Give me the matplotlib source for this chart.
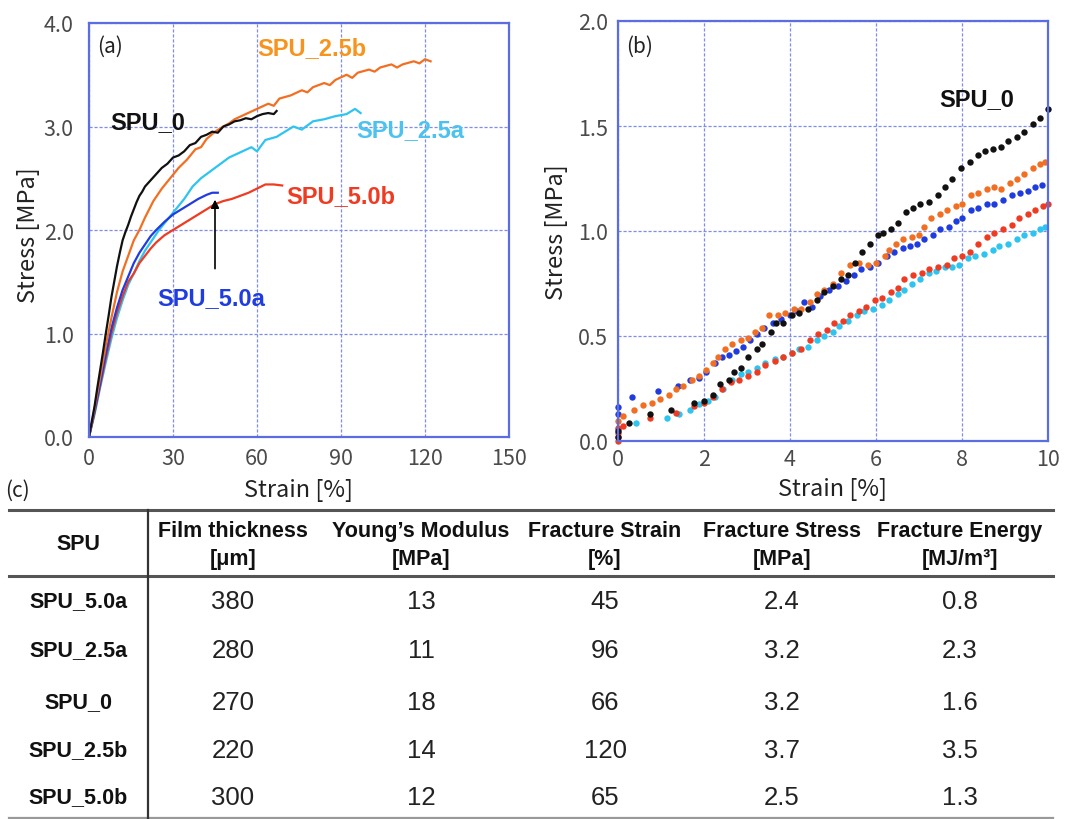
import matplotlib
matplotlib.use("Agg")
import matplotlib.pyplot as plt
from matplotlib.lines import Line2D

# ---------------- data: panel (a) full stress-strain curves ----------------
a_spu0_strain = [0, 1, 2, 3, 4, 5, 6, 7, 8, 9, 10, 11, 12, 13, 14, 15, 16, 17, 18, 19, 20, 22, 24, 26, 28, 30, 32, 34, 36, 38, 40, 42, 44, 46, 48, 50, 52, 54, 56, 58, 60, 62, 64, 66, 67]
a_spu0_stress = [0, 0.15, 0.30, 0.48, 0.65, 0.82, 1.0, 1.17, 1.35, 1.5, 1.65, 1.78, 1.9, 1.98, 2.05, 2.13, 2.2, 2.27, 2.33, 2.37, 2.42, 2.48, 2.54, 2.6, 2.64, 2.7, 2.72, 2.76, 2.82, 2.84, 2.9, 2.92, 2.95, 2.94, 3.0, 3.02, 3.05, 3.06, 3.08, 3.07, 3.1, 3.12, 3.13, 3.12, 3.15]

a_spu25b_strain = [0, 2, 4, 6, 8, 10, 12, 14, 16, 18, 20, 23, 26, 29, 32, 35, 38, 40, 42, 45, 48, 50, 52, 56, 60, 64, 66, 68, 72, 76, 78, 80, 84, 86, 88, 92, 94, 96, 100, 102, 104, 108, 110, 112, 116, 118, 120, 122]
a_spu25b_stress = [0, 0.28, 0.58, 0.88, 1.15, 1.4, 1.6, 1.75, 1.9, 2.0, 2.12, 2.28, 2.4, 2.5, 2.6, 2.68, 2.78, 2.8, 2.88, 2.95, 3.0, 3.03, 3.07, 3.12, 3.17, 3.22, 3.2, 3.27, 3.3, 3.35, 3.33, 3.38, 3.42, 3.4, 3.45, 3.5, 3.47, 3.52, 3.55, 3.53, 3.57, 3.6, 3.57, 3.6, 3.63, 3.61, 3.65, 3.63]

a_spu25a_strain = [0, 2, 4, 6, 8, 10, 12, 14, 16, 18, 20, 22, 25, 28, 31, 34, 37, 40, 43, 46, 50, 54, 58, 60, 63, 67, 70, 73, 76, 80, 84, 88, 92, 95, 97]
a_spu25a_stress = [0, 0.22, 0.48, 0.72, 0.95, 1.15, 1.32, 1.47, 1.58, 1.7, 1.8, 1.88, 2.0, 2.1, 2.2, 2.3, 2.42, 2.5, 2.56, 2.62, 2.7, 2.75, 2.8, 2.76, 2.87, 2.9, 2.95, 3.0, 2.97, 3.05, 3.07, 3.1, 3.12, 3.17, 3.13]

a_spu50a_strain = [0, 2, 4, 6, 8, 10, 12, 14, 16, 18, 20, 22, 24, 27, 30, 33, 36, 39, 42, 44, 46]
a_spu50a_stress = [0, 0.25, 0.52, 0.8, 1.05, 1.25, 1.42, 1.55, 1.68, 1.78, 1.86, 1.94, 2.0, 2.08, 2.15, 2.2, 2.25, 2.3, 2.34, 2.36, 2.36]

a_spu50b_strain = [0, 2, 4, 6, 8, 10, 12, 14, 16, 18, 20, 22, 24, 27, 30, 33, 36, 39, 42, 45, 48, 51, 54, 57, 60, 63, 66, 69]
a_spu50b_stress = [0, 0.24, 0.5, 0.76, 1.0, 1.2, 1.36, 1.5, 1.58, 1.68, 1.75, 1.82, 1.88, 1.95, 2.0, 2.05, 2.1, 2.15, 2.2, 2.25, 2.28, 2.3, 2.33, 2.36, 2.4, 2.44, 2.44, 2.43]

# ---------------- data: panel (b) initial region (dots) ----------------
b_spu0_strain = [0, 0, 0.25, 0.74, 1.23, 1.76, 2.0, 2.2, 2.37, 2.58, 2.7, 2.86, 3.03, 3.23, 3.35, 3.56, 3.68, 3.84, 4.05, 4.21, 4.42, 4.62, 4.78, 4.99, 5.19, 5.36, 5.52, 5.68, 5.85, 6.05, 6.17, 6.34, 6.5, 6.7, 6.87, 7.03, 7.24, 7.44, 7.6, 7.77, 7.97, 8.18, 8.38, 8.54, 8.71, 8.91, 9.08, 9.28, 9.44, 9.65, 9.81, 10.0]
b_spu0_stress = [0.02, 0.05, 0.087, 0.127, 0.148, 0.183, 0.19, 0.22, 0.27, 0.29, 0.33, 0.35, 0.40, 0.44, 0.46, 0.52, 0.56, 0.56, 0.60, 0.61, 0.63, 0.67, 0.71, 0.74, 0.77, 0.79, 0.85, 0.90, 0.94, 0.98, 0.99, 1.01, 1.04, 1.09, 1.11, 1.13, 1.14, 1.17, 1.21, 1.25, 1.30, 1.33, 1.36, 1.38, 1.39, 1.40, 1.43, 1.45, 1.47, 1.51, 1.54, 1.58]

b_spu25b_strain = [0, 0.12, 0.37, 0.57, 0.78, 0.98, 1.19, 1.35, 1.51, 1.72, 1.88, 2.04, 2.2, 2.33, 2.49, 2.66, 2.86, 3.03, 3.19, 3.35, 3.52, 3.72, 3.88, 4.09, 4.25, 4.46, 4.62, 4.78, 4.99, 5.19, 5.40, 5.60, 5.81, 6.01, 6.21, 6.30, 6.46, 6.62, 6.83, 6.99, 7.11, 7.28, 7.48, 7.65, 7.85, 8.01, 8.22, 8.38, 8.59, 8.75, 8.91, 9.12, 9.28, 9.44, 9.65, 9.81, 9.93]
b_spu25b_stress = [0.095, 0.12, 0.15, 0.17, 0.18, 0.2, 0.22, 0.25, 0.26, 0.29, 0.31, 0.34, 0.37, 0.40, 0.44, 0.46, 0.48, 0.49, 0.52, 0.54, 0.60, 0.60, 0.61, 0.63, 0.63, 0.66, 0.70, 0.72, 0.75, 0.80, 0.84, 0.85, 0.84, 0.85, 0.88, 0.91, 0.94, 0.96, 0.97, 0.98, 1.02, 1.06, 1.08, 1.10, 1.12, 1.13, 1.17, 1.18, 1.20, 1.21, 1.20, 1.23, 1.25, 1.27, 1.30, 1.32, 1.33]

b_spu50a_strain = [0, 0, 0.33, 0.94, 1.39, 1.68, 1.88, 2.04, 2.25, 2.41, 2.58, 2.74, 2.9, 3.07, 3.23, 3.39, 3.6, 3.8, 4.01, 4.17, 4.33, 4.5, 4.7, 4.91, 5.11, 5.31, 5.48, 5.64, 5.85, 6.05, 6.26, 6.42, 6.62, 6.79, 6.95, 7.11, 7.32, 7.48, 7.69, 7.85, 8.01, 8.22, 8.38, 8.59, 8.75, 8.95, 9.16, 9.36, 9.53, 9.69, 9.85]
b_spu50a_stress = [0.16, 0.13, 0.21, 0.24, 0.26, 0.29, 0.30, 0.33, 0.37, 0.40, 0.41, 0.43, 0.45, 0.48, 0.51, 0.54, 0.56, 0.58, 0.60, 0.62, 0.66, 0.64, 0.69, 0.72, 0.74, 0.76, 0.79, 0.82, 0.83, 0.85, 0.88, 0.90, 0.92, 0.93, 0.94, 0.96, 0.98, 1.01, 1.02, 1.05, 1.06, 1.10, 1.11, 1.13, 1.13, 1.15, 1.17, 1.18, 1.19, 1.21, 1.22]

b_spu50b_strain = [0, 0, 0, 0, 0.12, 0.74, 1.35, 1.76, 2.0, 2.2, 2.41, 2.62, 2.82, 3.03, 3.23, 3.43, 3.64, 3.84, 4.05, 4.25, 4.46, 4.66, 4.87, 5.03, 5.23, 5.4, 5.6, 5.76, 5.97, 6.13, 6.34, 6.5, 6.66, 6.87, 7.07, 7.24, 7.44, 7.65, 7.81, 8.01, 8.18, 8.38, 8.59, 8.75, 8.95, 9.16, 9.32, 9.53, 9.69, 9.89, 10.0]
b_spu50b_stress = [0.0, 0.02, 0.04, 0.06, 0.07, 0.11, 0.135, 0.167, 0.18, 0.21, 0.25, 0.28, 0.29, 0.31, 0.33, 0.36, 0.38, 0.40, 0.42, 0.44, 0.48, 0.51, 0.53, 0.56, 0.57, 0.60, 0.62, 0.64, 0.67, 0.68, 0.71, 0.73, 0.77, 0.79, 0.80, 0.82, 0.83, 0.84, 0.87, 0.88, 0.90, 0.94, 0.97, 0.99, 1.01, 1.03, 1.06, 1.08, 1.10, 1.12, 1.13]

b_spu25a_strain = [0, 0.41, 1.14, 1.43, 1.68, 1.88, 2.09, 2.25, 2.45, 2.66, 2.86, 3.03, 3.23, 3.43, 3.64, 3.84, 4.05, 4.21, 4.42, 4.62, 4.78, 4.99, 5.15, 5.36, 5.56, 5.72, 5.93, 6.13, 6.3, 6.5, 6.66, 6.83, 7.03, 7.24, 7.4, 7.6, 7.77, 7.93, 8.14, 8.3, 8.5, 8.71, 8.87, 9.08, 9.28, 9.44, 9.65, 9.81, 9.93]
b_spu25a_stress = [0.055, 0.087, 0.11, 0.127, 0.15, 0.175, 0.19, 0.21, 0.25, 0.29, 0.32, 0.33, 0.35, 0.37, 0.39, 0.40, 0.42, 0.44, 0.45, 0.48, 0.50, 0.52, 0.55, 0.57, 0.60, 0.62, 0.63, 0.65, 0.67, 0.70, 0.72, 0.75, 0.77, 0.80, 0.81, 0.83, 0.83, 0.84, 0.87, 0.88, 0.89, 0.91, 0.93, 0.94, 0.96, 0.98, 0.99, 1.01, 1.02]

# ---------------- data: table (c) ----------------
table_headers = ["Film thickness\n[μm]", "Young’s Modulus\n[MPa]", "Fracture Strain\n[%]",
                 "Fracture Stress\n[MPa]", "Fracture Energy\n[MJ/m³]"]
table_samples = ["SPU_5.0a", "SPU_2.5a", "SPU_0", "SPU_2.5b", "SPU_5.0b"]
film_thickness = ["380", "280", "270", "220", "300"]
youngs_modulus = ["13", "11", "18", "14", "12"]
fracture_strain = ["45", "96", "66", "120", "65"]
fracture_stress = ["2.4", "3.2", "3.2", "3.7", "2.5"]
fracture_energy = ["0.8", "2.3", "1.6", "3.5", "1.3"]

# ---------------- style ----------------
C_BLACK = "#111111"
C_ORANGE = "#f26f21"
C_CYAN = "#2ec4f0"
C_BLUE = "#1f3ce0"
C_RED = "#ef3b22"
SPINE = "#5b6ee1"
GRID = "#7f8cec"
TICK = "#4a4a4a"
CHART_FONT = ["Noto Sans CJK JP", "DejaVu Sans"]
BOLD_FONT = ["Liberation Sans", "DejaVu Sans"]

W, H = 1065, 820
fig = plt.figure(figsize=(W / 100, H / 100), dpi=100)


def box(l, t, r, b):
    return [l / W, 1 - b / H, (r - l) / W, (b - t) / H]


def style_axes(ax):
    for s in ax.spines.values():
        s.set_color(SPINE)
        s.set_linewidth(1.6)
    ax.grid(True, color=GRID, linestyle=(0, (2.5, 1.5)), linewidth=0.9)
    ax.set_axisbelow(True)
    ax.tick_params(length=0, labelsize=15.5, colors=TICK, pad=7)
    for lab in ax.get_xticklabels() + ax.get_yticklabels():
        lab.set_family(CHART_FONT)


# ---------------- panel (a) ----------------
axa = fig.add_axes(box(89, 24, 509, 438))
axa.plot(a_spu25a_strain, a_spu25a_stress, color=C_CYAN, lw=1.6)
axa.plot(a_spu50b_strain, a_spu50b_stress, color=C_RED, lw=1.6)
axa.plot(a_spu50a_strain, a_spu50a_stress, color=C_BLUE, lw=1.6)
axa.plot(a_spu25b_strain, a_spu25b_stress, color=C_ORANGE, lw=1.6)
axa.plot(a_spu0_strain, a_spu0_stress, color=C_BLACK, lw=1.6)
axa.set_xlim(0, 150)
axa.set_ylim(0, 4.0)
axa.set_xticks([0, 30, 60, 90, 120, 150])
axa.set_yticks([0, 1, 2, 3, 4])
axa.set_yticklabels(["0.0", "1.0", "2.0", "3.0", "4.0"])
style_axes(axa)
axa.tick_params(axis="y", pad=11)

axa.text(2.8, 3.78, "(a)", fontsize=15, family=CHART_FONT, color="#222222", va="center")
axa.text(7.5, 3.05, "SPU_0", fontsize=17, fontweight="bold", family=BOLD_FONT, color=C_BLACK, va="center")
axa.text(60, 3.76, "SPU_2.5b", fontsize=17, fontweight="bold", family=BOLD_FONT, color="#f7941d", va="center")
axa.text(95.5, 2.97, "SPU_2.5a", fontsize=17, fontweight="bold", family=BOLD_FONT, color="#4cc2ef", va="center", clip_on=False)
axa.text(70.5, 2.33, "SPU_5.0b", fontsize=17, fontweight="bold", family=BOLD_FONT, color=C_RED, va="center")
axa.text(24.3, 1.35, "SPU_5.0a", fontsize=17, fontweight="bold", family=BOLD_FONT, color=C_BLUE, va="center")
axa.annotate("", xy=(45, 2.32), xytext=(45, 1.6),
             arrowprops=dict(arrowstyle="-|>", color="black", lw=1.2, mutation_scale=12))

# ---------------- panel (b) ----------------
axb = fig.add_axes(box(618, 22, 1048, 442))
ms = 4.6
axb.plot(b_spu25a_strain, b_spu25a_stress, "o", color=C_CYAN, ms=ms, mew=0, clip_on=False)
axb.plot(b_spu50b_strain, b_spu50b_stress, "o", color=C_RED, ms=ms, mew=0, clip_on=False)
axb.plot(b_spu50a_strain, b_spu50a_stress, "o", color=C_BLUE, ms=ms, mew=0, clip_on=False)
axb.plot(b_spu25b_strain, b_spu25b_stress, "o", color=C_ORANGE, ms=ms, mew=0, clip_on=False)
axb.plot(b_spu0_strain, b_spu0_stress, "o", color=C_BLACK, ms=ms, mew=0, clip_on=False)
axb.set_xlim(0, 10)
axb.set_ylim(0, 2.0)
axb.set_xticks([0, 2, 4, 6, 8, 10])
axb.set_yticks([0, 0.5, 1.0, 1.5, 2.0])
axb.set_yticklabels(["0.0", "0.5", "1.0", "1.5", "2.0"])
style_axes(axb)
axb.tick_params(axis="x", pad=5)
axb.text(0.19, 1.88, "(b)", fontsize=15, family=CHART_FONT, color="#222222", va="center")
axb.text(7.48, 1.63, "SPU_0", fontsize=17, fontweight="bold", family=BOLD_FONT, color=C_BLACK, va="center")

# axis labels
def ftext(x, y, s, **kw):
    fig.text(x / W, 1 - y / H, s, ha="center", va="center", family=CHART_FONT,
             color="#222222", **kw)

ftext(299, 491, "Strain [%]", fontsize=17)
ftext(833, 490, "Strain [%]", fontsize=17)
ftext(28, 235, "Stress [MPa]", fontsize=17, rotation=90)
ftext(556, 232, "Stress [MPa]", fontsize=17, rotation=90)
ftext(17, 491, "(c)", fontsize=15)

# ---------------- table (c) ----------------
axt = fig.add_axes([0, 0, 1, 1], zorder=-1)
axt.set_xlim(0, W)
axt.set_ylim(H, 0)
axt.axis("off")

axt.add_line(Line2D([9, 1053], [510.5, 510.5], color="#555555", lw=2.2))
axt.add_line(Line2D([9, 1053], [576.5, 576.5], color="#555555", lw=2.2))
axt.add_line(Line2D([9, 1053], [818.5, 818.5], color="#999999", lw=1.6))
axt.add_line(Line2D([148, 148], [510.5, 820], color="#333333", lw=1.6))

col_x = [233, 421, 605, 782, 960]
row_y = [602, 651, 703, 751, 798]
HDR_FS = 15.5
axt.text(78, 545, "SPU", ha="center", va="center", fontsize=HDR_FS, fontweight="bold",
         family=BOLD_FONT, color="#111111")
for cx, hdr in zip(col_x, table_headers):
    top, bottom = hdr.split("\n")
    axt.text(cx, 532, top, ha="center", va="center", fontsize=HDR_FS, fontweight="bold",
             family=BOLD_FONT, color="#111111")
    axt.text(cx, 560, bottom, ha="center", va="center", fontsize=HDR_FS, fontweight="bold",
             family=BOLD_FONT, color="#111111")

columns = [film_thickness, youngs_modulus, fracture_strain, fracture_stress, fracture_energy]
for i, name in enumerate(table_samples):
    axt.text(78, row_y[i], name, ha="center", va="center", fontsize=15.5, fontweight="bold",
             family=BOLD_FONT, color="#111111")
    for cx, col in zip(col_x, columns):
        axt.text(cx, row_y[i], col[i], ha="center", va="center", fontsize=18.5,
                 family=BOLD_FONT, color="#222222")

fig.savefig("out.png", dpi=100)
